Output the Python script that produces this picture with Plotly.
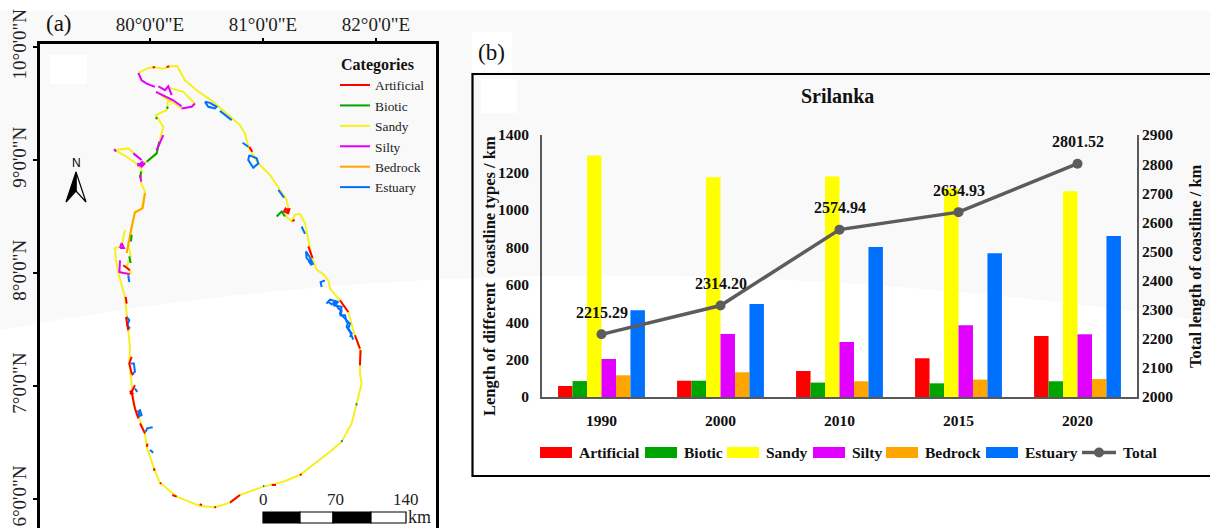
import plotly.graph_objects as go

# ---------- panel (b) data ----------
years = ["1990", "2000", "2010", "2015", "2020"]
artificial = [59, 87, 139, 207, 326]
biotic = [85, 87, 77, 73, 84]
sandy = [1290, 1174, 1178, 1115, 1100]
silty = [203, 337, 294, 383, 335]
bedrock = [116, 132, 84, 93, 96]
estuary = [463, 497, 801, 768, 860]
total = [2215.29, 2314.20, 2574.94, 2634.93, 2801.52]
bar_names = ["Artificial", "Biotic", "Sandy", "Silty", "Bedrock", "Estuary"]

# ---------- panel (a) data: coastline segments as (lon, lat) ----------
sandy_coast = [
    [(79.897, 9.771), (79.971, 9.809), (80.029, 9.824), (80.118, 9.809), (80.177, 9.829), (80.242, 9.829),
     (80.31, 9.706), (80.413, 9.618), (80.56, 9.515), (80.678, 9.412), (80.796, 9.309), (80.841, 9.235),
     (80.87, 9.118), (80.959, 8.971), (81.062, 8.868), (81.121, 8.779), (81.209, 8.647), (81.224, 8.574),
     (81.204, 8.5), (81.254, 8.456), (81.283, 8.515), (81.327, 8.524), (81.372, 8.441), (81.401, 8.294),
     (81.431, 8.147), (81.475, 8.029), (81.534, 7.988), (81.578, 7.935), (81.593, 7.862), (81.681, 7.759),
     (81.755, 7.655), (81.799, 7.493), (81.858, 7.331), (81.858, 7.11), (81.873, 7.022), (81.829, 6.845),
     (81.785, 6.669), (81.696, 6.507), (81.593, 6.418), (81.504, 6.35), (81.327, 6.212), (81.18, 6.153),
     (81.003, 6.109), (80.796, 6.035), (80.708, 5.968), (80.575, 5.926), (80.442, 5.938), (80.236, 6.021),
     (80.088, 6.144), (80.035, 6.271), (79.971, 6.462), (79.956, 6.58), (79.853, 6.845), (79.838, 7.022),
     (79.817, 7.199), (79.823, 7.346), (79.794, 7.611), (79.779, 7.788), (79.72, 8.0), (79.699, 8.112),
     (79.69, 8.221), (79.749, 8.235), (79.779, 8.382)],
    [(79.72, 8.0), (79.838, 8.0), (79.794, 8.059), (79.829, 8.147), (79.808, 8.265), (79.829, 8.324),
     (79.847, 8.441), (79.867, 8.544), (79.926, 8.565), (79.956, 8.721), (79.917, 8.809), (79.926, 8.912),
     (79.897, 8.956), (79.971, 8.985), (80.059, 9.059), (80.088, 9.176), (80.118, 9.294), (80.053, 9.397),
     (80.147, 9.441), (80.162, 9.529), (80.059, 9.603)],
    [(80.162, 9.641), (80.295, 9.603), (80.398, 9.5)],
    [(80.28, 9.456), (80.221, 9.5), (80.162, 9.529)],
    [(79.69, 9.088), (79.808, 9.103), (79.926, 9.0)],
    [(79.69, 9.088), (79.794, 9.029), (79.897, 8.956)],
]
silty_coast = [
    [(79.897, 9.771), (79.926, 9.706), (79.971, 9.676), (80.044, 9.647)],
    [(80.074, 9.653), (80.133, 9.618), (80.162, 9.653), (80.192, 9.574)],
    [(80.053, 9.603), (80.147, 9.559), (80.206, 9.529), (80.28, 9.476)],
    [(80.28, 9.456), (80.369, 9.471), (80.398, 9.5)],
    [(79.684, 9.097), (79.699, 9.074)],
    [(79.853, 9.059), (79.926, 9.0)],
    [(79.888, 8.971), (79.926, 8.941), (79.956, 8.971), (79.89, 8.95), (79.94, 8.99)],
    [(79.912, 8.868), (79.923, 8.809)],
    [(80.059, 9.088), (80.088, 9.147), (80.118, 9.221)],
    [(79.735, 8.221), (79.749, 8.265), (79.77, 8.221), (79.735, 8.221)],
    [(79.735, 8.112), (79.729, 8.009), (79.823, 7.988)],
]
biotic_coast = [
    [(79.971, 8.985), (80.059, 9.059), (80.082, 9.162)],
    [(80.147, 9.456), (80.162, 9.47)],
    [(80.055, 9.36), (80.06, 9.38)],
    [(79.838, 8.338), (79.832, 8.279)],
    [(79.817, 8.147), (79.829, 8.088)],
    [(81.121, 8.5), (81.165, 8.544), (81.195, 8.5)],
    [(79.921, 8.9), (79.914, 8.84)],
]
bedrock_coast = [
    [(79.956, 8.706), (79.935, 8.574), (79.867, 8.535), (79.838, 8.412), (79.808, 8.25), (79.794, 8.176)],
]
artificial_coast = [
    [(81.195, 8.559), (81.233, 8.565), (81.224, 8.529), (81.186, 8.544), (81.2, 8.57), (81.225, 8.545)],
    [(81.401, 8.235), (81.439, 8.132)],
    [(81.681, 7.759), (81.755, 7.655)],
    [(81.814, 7.449), (81.858, 7.331)],
    [(81.864, 7.317), (81.858, 7.184)],
    [(79.785, 7.788), (79.794, 7.729)],
    [(79.788, 7.611), (79.808, 7.493)],
    [(79.838, 7.258), (79.817, 7.199), (79.838, 7.11), (79.853, 7.096)],
    [(79.867, 7.007), (79.838, 6.948), (79.867, 6.801), (79.897, 6.713)],
    [(79.82, 6.945), (79.845, 6.955), (79.825, 6.93), (79.845, 6.935), (79.825, 6.96)],
    [(79.912, 6.669), (79.956, 6.58)],
    [(79.971, 6.462), (79.98, 6.49)],
    [(80.198, 6.035), (80.236, 6.021)],
    [(81.077, 6.124), (81.115, 6.124)],
    [(80.44, 5.955), (80.46, 5.945)],
    [(80.57, 5.925), (80.585, 5.93)],
    [(80.708, 5.968), (80.796, 6.035)],
    [(81.327, 6.212), (81.342, 6.22)],
    [(80.088, 6.144), (80.1, 6.135)],
    [(80.035, 6.271), (80.04, 6.25)],
    [(79.764, 8.068), (79.823, 8.024)],
    [(80.024, 9.818), (80.044, 9.824)],
    [(80.147, 9.824), (80.171, 9.829)],
    [(80.879, 9.118), (80.906, 9.074)],
    [(81.26, 8.46), (81.28, 8.47)],
]
estuary_coast = [
    [(80.487, 9.515), (80.516, 9.471), (80.575, 9.456), (80.59, 9.471), (80.531, 9.506), (80.487, 9.515)],
    [(80.619, 9.435), (80.723, 9.353)],
    [(80.82, 9.153), (80.87, 9.118)],
    [(80.879, 9.044), (80.87, 9.0), (80.914, 8.932), (80.959, 8.971), (80.944, 9.015), (80.879, 9.044)],
    [(81.136, 8.735), (81.186, 8.668)],
    [(81.342, 8.412), (81.372, 8.347)],
    [(81.38, 8.191), (81.386, 8.132), (81.445, 8.074), (81.41, 8.147), (81.38, 8.191)],
    [(81.401, 8.112), (81.431, 8.068)],
    [(81.549, 7.935), (81.51, 7.92), (81.519, 7.876)],
    [(81.561, 7.729), (81.593, 7.764), (81.667, 7.744), (81.622, 7.714), (81.696, 7.7), (81.681, 7.641),
     (81.726, 7.596), (81.755, 7.567), (81.74, 7.523), (81.77, 7.479), (81.799, 7.411)],
    [(81.578, 7.744), (81.608, 7.723), (81.637, 7.744), (81.667, 7.685), (81.696, 7.67), (81.687, 7.626),
     (81.726, 7.626), (81.74, 7.567), (81.77, 7.552), (81.755, 7.508), (81.785, 7.464), (81.77, 7.434)],
    [(79.794, 7.611), (79.817, 7.582), (79.799, 7.538), (79.823, 7.508)],
    [(79.829, 7.199), (79.858, 7.199), (79.867, 7.125), (79.847, 7.11)],
    [(79.867, 6.978), (79.888, 6.948)],
    [(79.888, 6.772), (79.912, 6.786), (79.926, 6.743), (79.906, 6.733), (79.9, 6.77)],
    [(79.962, 6.595), (79.976, 6.625), (80.024, 6.634)],
    [(80.0, 6.433), (80.029, 6.41)],
    [(81.69, 6.51), (81.705, 6.515)],
    [(81.82, 6.835), (81.835, 6.84)],
    [(81.0, 6.115), (81.012, 6.115)],
    [(79.808, 7.979), (79.817, 7.92)],
]

# ---------- styling ----------
COLORS = {"Artificial": "#ff0000", "Biotic": "#00a400", "Sandy": "#ffff00",
          "Silty": "#e100ff", "Bedrock": "#ffa500", "Estuary": "#0070ff"}
MAP_COLORS = {**COLORS, "Sandy": "#f6f01e"}
SERIF = "Liberation Serif"
W, H = 1210, 528
slots = list(range(len(years)))


def px(x):
    return x / W


def py(y):
    return 1 - y / H


def flatten(segments):
    lons, lats = [], []
    for seg in segments:
        lons += [p[0] for p in seg] + [None]
        lats += [p[1] for p in seg] + [None]
    return lons, lats


fig = go.Figure()

map_layers = [("Sandy", sandy_coast, 3), ("Bedrock", bedrock_coast, 5), ("Biotic", biotic_coast, 2),
              ("Silty", silty_coast, 4), ("Estuary", estuary_coast, 6), ("Artificial", artificial_coast, 1)]
for name, segs, rank in map_layers:
    lons, lats = flatten(segs)
    fig.add_trace(go.Scatter(x=lons, y=lats, mode="lines", name=name, legendrank=rank,
                             line=dict(color=MAP_COLORS[name], width=2),
                             xaxis="x", yaxis="y", showlegend=True, hoverinfo="skip"))

for name, vals in zip(bar_names, [artificial, biotic, sandy, silty, bedrock, estuary]):
    fig.add_trace(go.Bar(x=slots, y=vals, name=name, marker=dict(color=COLORS[name], line=dict(width=0)),
                         xaxis="x2", yaxis="y2", showlegend=False))

fig.add_trace(go.Scatter(x=slots, y=total, name="Total", mode="lines+markers",
                         line=dict(color="#5c5c5c", width=3.5), marker=dict(color="#5c5c5c", size=10),
                         xaxis="x2", yaxis="y3", showlegend=False))

shapes = []


def rect(x0, y0, x1, y1, fill=None, line=None, lw=0, layer="below"):
    shapes.append(dict(type="rect", xref="paper", yref="paper", x0=px(x0), x1=px(x1), y0=py(y0), y1=py(y1),
                       fillcolor=fill or "rgba(0,0,0,0)", line=dict(color=line or "rgba(0,0,0,0)", width=lw),
                       layer=layer))


def path(points, closed=False, fill=None, line="#000000", lw=1.2, layer="above"):
    d = "M" + " L".join(f"{px(x):.5f},{py(y):.5f}" for x, y in points) + (" Z" if closed else "")
    shapes.append(dict(type="path", xref="paper", yref="paper", path=d, fillcolor=fill or "rgba(0,0,0,0)",
                       line=dict(color=line, width=lw), layer=layer))


shapes.append(dict(type="path", xref="paper", yref="paper", layer="below", fillcolor="#f9f9f9",
                   line=dict(width=0),
                   path=f"M0,{py(11):.4f} L1,{py(11):.4f} L1,{py(322):.4f} "
                        f"Q{px(560):.4f},{py(225):.4f} 0,{py(330):.4f} Z"))
rect(50, 55, 87, 84, fill="#ffffff")
rect(472, 32, 512, 72, fill="#ffffff")
rect(481, 79, 517, 113, fill="#ffffff")
rect(472.5, 74, 1225, 476, line="#000000", lw=2.2)

path([(76, 172), (66, 202), (76, 191)], closed=True, fill="#000000")
path([(76, 172), (86, 202), (76, 191)], closed=True)

scale_edges = [263, 300, 333, 371, 406]
for i in range(4):
    rect(scale_edges[i], 512, scale_edges[i + 1], 523, fill="#000000" if i % 2 == 0 else "#ffffff",
         line="#000000", lw=1.2, layer="above")

annotations = []


def text(x, y, s, size=15, bold=False, anchor="center", angle=0, color="#111111", family=SERIF):
    annotations.append(dict(xref="paper", yref="paper", x=px(x), y=py(y), text=f"<b>{s}</b>" if bold else s,
                            showarrow=False, xanchor=anchor, yanchor="middle", textangle=angle,
                            font=dict(family=family, size=size, color=color)))


text(59, 24, "(a)", size=23)
text(491, 53, "(b)", size=23)
text(76, 163, "N", size=12, color="#000000", family="Liberation Sans")
for x_label, s in zip([263, 335, 406], ["0", "70", "140"]):
    text(x_label, 499, s, size=17, color="#222222")
text(419, 517, "km", size=18, color="#222222")
text(837, 96, "Srilanka", size=20, bold=True)
text(489, 276, "Length of different&#160;&#160;coastline types / km", size=16.5, bold=True, angle=-90)
text(1195, 266, "Total length of coastline / km", size=16.5, bold=True, angle=-90)

for i, val in zip(slots, total):
    annotations.append(dict(xref="x2", yref="y3", x=i, y=val, text=f"<b>{val:.2f}</b>", showarrow=False,
                            yshift=22, font=dict(family=SERIF, size=16, color="#111111")))

swatch_x = [540, 645, 727, 813, 886, 986]
for name, x0 in zip(bar_names, swatch_x):
    rect(x0, 447, x0 + 32, 458, fill=COLORS[name])
    text(x0 + 37, 452.5, name, size=15.5, bold=True, anchor="left")
path([(1082, 452.5), (1116, 452.5)], line="#5c5c5c", lw=3.5)
shapes.append(dict(type="circle", xref="paper", yref="paper", x0=px(1094), x1=px(1104), y0=py(457.5), y1=py(447.5),
                   fillcolor="#5c5c5c", line=dict(width=0)))
text(1121, 452.5, "Total", size=15.5, bold=True, anchor="left")

fig.update_layout(
    width=W, height=H, margin=dict(l=0, r=0, t=0, b=0, pad=0, autoexpand=False), autosize=False,
    paper_bgcolor="#ffffff", plot_bgcolor="rgba(0,0,0,0)",
    barmode="group", bargap=0.27, bargroupgap=0,
    font=dict(family=SERIF, color="#111111"),
    shapes=shapes, annotations=annotations,
    legend=dict(x=px(335), y=py(49), xanchor="left", yanchor="top", bgcolor="rgba(0,0,0,0)",
                title=dict(text="&#160;<b>Categories</b>", font=dict(family=SERIF, size=16, color="#111111")),
                font=dict(family=SERIF, size=13.4, color="#222222"), itemwidth=30, tracegroupgap=0,
                traceorder="normal"),
    xaxis=dict(domain=[px(40), px(436)], range=[79.027, 82.531], side="top", anchor="y",
               tickvals=[80, 81, 82], ticktext=['80°0\'0"E', '81°0\'0"E', '82°0\'0"E'],
               ticks="outside", ticklen=3, tickwidth=1.5, tickcolor="#000000", showgrid=False, zeroline=False,
               showline=True, linecolor="#000000", linewidth=2.5, tickfont=dict(family=SERIF, size=19, color="#222222")),
    yaxis=dict(domain=[0, py(44)], range=[5.743, 10.027], anchor="x", mirror=True,
               tickvals=[6, 7, 8, 9, 10], ticktext=['6°0\'0"N', '7°0\'0"N', '8°0\'0"N', '9°0\'0"N', '10°0\'0"N'],
               tickangle=-90, ticks="outside", ticklen=4, tickwidth=1.5, tickcolor="#000000",
               showgrid=False, zeroline=False, showline=True, linecolor="#000000", linewidth=2.5,
               tickfont=dict(family=SERIF, size=19, color="#222222")),
    xaxis2=dict(domain=[px(542), px(1137)], anchor="y2", range=[-0.5, 4.5], tickvals=slots, ticktext=years,
                showgrid=False, zeroline=False, showline=True, linecolor="#595959", linewidth=2,
                ticks="outside", ticklen=8, tickcolor="rgba(0,0,0,0)",
                tickfont=dict(family=SERIF, size=15.5, color="#111111", weight="bold")),
    yaxis2=dict(domain=[py(397), py(135)], range=[0, 1400], anchor="x2", dtick=200, showgrid=False, zeroline=False,
                showline=True, linecolor="#595959", linewidth=2,
                ticks="outside", ticklen=8, tickcolor="rgba(0,0,0,0)",
                tickfont=dict(family=SERIF, size=15.5, color="#111111", weight="bold")),
    yaxis3=dict(domain=[py(397), py(135)], range=[2000, 2900], anchor="x2", overlaying="y2", side="right", dtick=100,
                showgrid=False, zeroline=False, showline=True, linecolor="#595959", linewidth=2, ticks="",
                tickfont=dict(family=SERIF, size=15.5, color="#111111", weight="bold")),
)

fig.write_html("out.html", config={"displayModeBar": False},
               post_script="document.body.style.margin='0';document.documentElement.style.overflow='hidden';")
